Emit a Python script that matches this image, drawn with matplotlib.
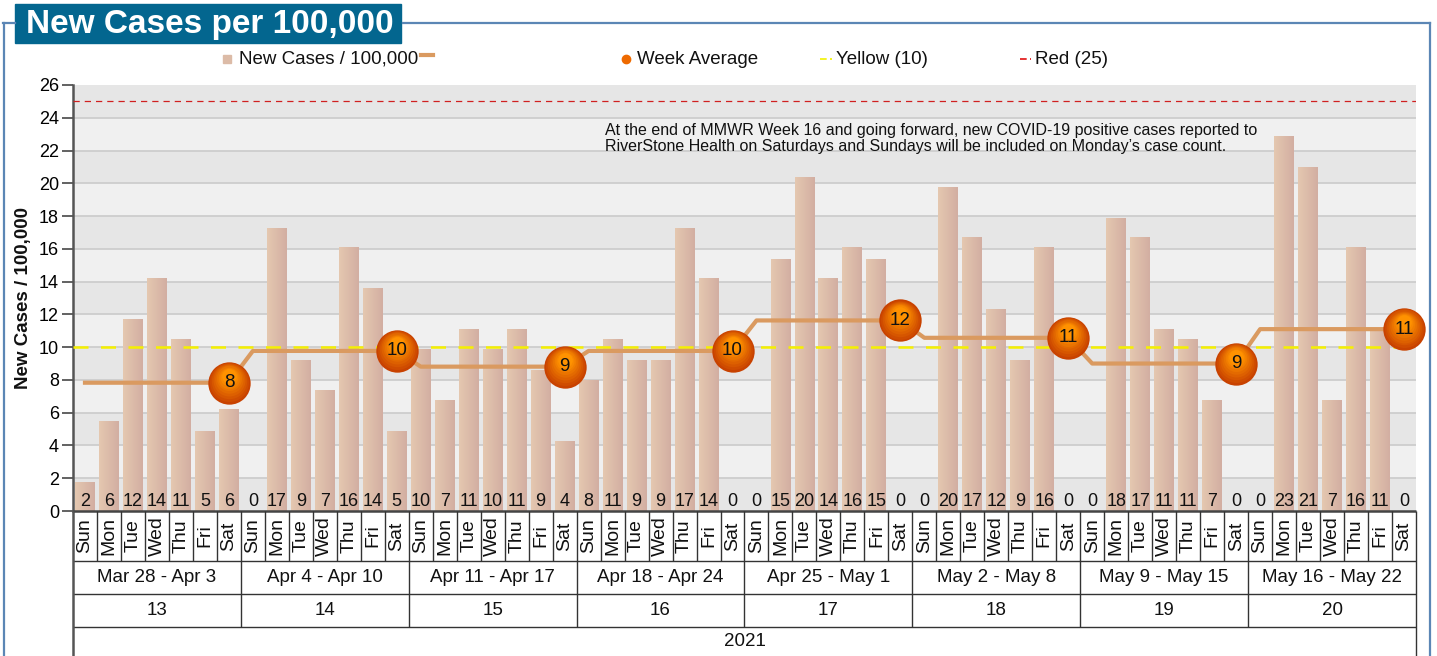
import numpy as np
import matplotlib
matplotlib.use('Agg')
import matplotlib.pyplot as plt
from matplotlib.colors import LinearSegmentedColormap, to_rgb
from matplotlib.lines import Line2D
from matplotlib.patches import Rectangle

plt.rcParams['font.family'] = ['Liberation Sans', 'DejaVu Sans']

# ---------------- data ----------------
days = ['Sun', 'Mon', 'Tue', 'Wed', 'Thu', 'Fri', 'Sat']
week_ranges = ['Mar 28 - Apr 3', 'Apr 4 - Apr 10', 'Apr 11 - Apr 17', 'Apr 18 - Apr 24',
               'Apr 25 - May 1', 'May 2 - May 8', 'May 9 - May 15', 'May 16 - May 22']
week_numbers = ['13', '14', '15', '16', '17', '18', '19', '20']
year_label = '2021'

cases_w13 = [1.8, 5.5, 11.7, 14.2, 10.5, 4.9, 6.2]
cases_w14 = [0.0, 17.3, 9.2, 7.4, 16.1, 13.6, 4.9]
cases_w15 = [9.9, 6.8, 11.1, 9.9, 11.1, 8.6, 4.3]
cases_w16 = [8.0, 10.5, 9.2, 9.2, 17.3, 14.2, 0.0]
cases_w17 = [0.0, 15.4, 20.4, 14.2, 16.1, 15.4, 0.0]
cases_w18 = [0.0, 19.8, 16.7, 12.3, 9.2, 16.1, 0.0]
cases_w19 = [0.0, 17.9, 16.7, 11.1, 10.5, 6.8, 0.0]
cases_w20 = [0.0, 22.9, 21.0, 6.8, 16.1, 11.0, 0.0]

week_average = [7.83, 9.77, 8.81, 9.77, 11.63, 10.57, 9.0, 11.1]
yellow_level = 10
red_level = 25

y_ticks = list(range(0, 27, 2))
note = ("At the end of MMWR Week 16 and going forward, new COVID-19 positive cases reported to\n"
        "RiverStone Health on Saturdays and Sundays will be included on Monday\u2019s case count.")

# ---------------- layout helpers ----------------
W, H = 1437, 656
fig = plt.figure(figsize=(W / 100, H / 100), dpi=100)
fig.patch.set_facecolor('white')


def fx(p):
    return p / W


def fy(p):
    return 1 - p / H


PL, PR, PT, PB = 73, 1416, 85, 511
ax = fig.add_axes([fx(PL), fy(PB), (PR - PL) / W, (PB - PT) / H])

cases = cases_w13 + cases_w14 + cases_w15 + cases_w16 + cases_w17 + cases_w18 + cases_w19 + cases_w20
n = len(cases)
x = np.arange(n)

# background bands + grid
for lo in range(0, 26, 2):
    col = '#E6E6E6' if (lo // 2) % 2 == 0 else '#F0F0F0'
    ax.axhspan(lo, lo + 2, color=col, zorder=0, lw=0)
for yv in y_ticks[1:-1]:
    ax.axhline(yv, color='#CDCDCD', lw=1.3, zorder=1)

# bars with horizontal gradient
bar_cmap = LinearSegmentedColormap.from_list('bar', ['#E5C8B0', '#D2AEA2'])
bars = ax.bar(x, cases, width=0.83, color='#DCBBA7', zorder=2, lw=0)
grad = np.linspace(0, 1, 64).reshape(1, -1)
for rect in bars:
    h = rect.get_height()
    if h <= 0:
        continue
    x0 = rect.get_x()
    w = rect.get_width()
    im = ax.imshow(grad, extent=[x0, x0 + w, 0, h], cmap=bar_cmap, aspect='auto',
                   zorder=2.1, interpolation='bilinear')
    im.set_clip_path(rect)

# threshold lines
ax.axhline(red_level, color='#D02020', lw=0.9, ls=(0, (5, 4)), zorder=3)
ax.axhline(yellow_level, color='#F5F000', lw=1.8, ls=(0, (6, 5)), zorder=3.2)

# week average line
daily_avg = np.repeat(week_average, 7)
ax.plot(x, daily_avg, color='#DA9A60', lw=3, zorder=3.5, solid_joinstyle='round')

# markers at end of each week (shaded sphere look)
mx = np.arange(6, n, 7)
my = np.array(week_average)
c_dark = np.array(to_rgb('#C84200'))
c_light = np.array(to_rgb('#FF9200'))
layers = 9
for j in range(layers):
    t = j / (layers - 1)
    size = 30.5 - 20 * t
    off = 0.42 * t
    col = c_dark * (1 - t) + c_light * t
    ax.scatter(mx, my + off, s=size ** 2, color=col, zorder=6 + 0.01 * j, lw=0, clip_on=False)
for xi, yi in zip(mx, my):
    ax.text(xi, yi, str(int(np.floor(yi + 0.5))), ha='center', va='center',
            fontsize=13.5, color='#111111', zorder=7)

# bar value labels
for xi, v in zip(x, cases):
    ax.text(xi, 0.28, str(int(np.floor(v + 0.5))), ha='center', va='baseline',
            fontsize=13, color='#111111', zorder=5)

ax.set_xlim(-0.5, n - 0.5)
ax.set_ylim(0, 26)
ax.set_yticks(y_ticks)
ax.set_xticks([])
ax.tick_params(axis='y', length=8, width=1.3, color='#555555', labelsize=13, pad=2)
for s in ['top', 'right', 'bottom']:
    ax.spines[s].set_visible(False)
ax.spines['left'].set_color('#555555')
ax.spines['left'].set_linewidth(1.8)
fig.text(fx(24), fy(298), 'New Cases / 100,000', fontsize=13.5, fontweight='bold',
         rotation=90, ha='center', va='center', color='#111111')

# note
fig.text(fx(605), fy(123), note, fontsize=11.5, va='top', ha='left', color='#111111',
         linespacing=1.05)

# ---------------- category table below ----------------
tab = fig.add_axes([fx(PL), 0, (PR - PL) / W, (H - PB) / H])
tab.set_xlim(-0.5, n - 0.5)
tab.set_ylim(H - PB, 0)
tab.axis('off')
lc = '#333333'
tab.hlines([0], -0.5, n - 0.5, color='#444444', lw=1.8, clip_on=False)
tab.hlines([50, 83, 116], -0.5, n - 0.5, color=lc, lw=1.0, clip_on=False)
for i in range(1, n):
    if i % 7 == 0:
        tab.vlines(i - 0.5, 0, 116, color=lc, lw=1.0)
    else:
        tab.vlines(i - 0.5, 0, 50, color=lc, lw=1.0)
tab.vlines(-0.5, 0, H - PB, color='#555555', lw=1.8, clip_on=False)
tab.vlines(n - 0.5, 0, H - PB, color=lc, lw=1.0, clip_on=False)
for i in range(n):
    tab.text(i, 25, days[i % 7], rotation=90, ha='center', va='center', fontsize=14,
             color='#111111')
for k in range(len(week_ranges)):
    tab.text(7 * k + 3, 66.5, week_ranges[k], ha='center', va='center', fontsize=13.5,
             color='#111111')
    tab.text(7 * k + 3, 99.5, week_numbers[k], ha='center', va='center', fontsize=13.5,
             color='#111111')
tab.text((n - 1) / 2, 130, year_label, ha='center', va='center', fontsize=13.5, color='#111111')

# ---------------- title + frame ----------------
frame_c = '#5B86B5'
fig.add_artist(Line2D([fx(3), fx(15)], [fy(23), fy(23)], color=frame_c, lw=1.6))
fig.add_artist(Line2D([fx(403), fx(1430)], [fy(23), fy(23)], color=frame_c, lw=1.6))
fig.add_artist(Line2D([fx(4), fx(4)], [fy(23), fy(H)], color=frame_c, lw=1.6))
fig.add_artist(Line2D([fx(1430), fx(1430)], [fy(23), fy(H)], color=frame_c, lw=1.6))
fig.add_artist(Rectangle((fx(15), fy(43)), (401 - 15) / W, 39 / H, color='#03668F',
                         transform=fig.transFigure))
fig.text(fx(26), fy(24), 'New Cases per 100,000', color='white', fontsize=24,
         fontweight='bold', ha='left', va='center')

# ---------------- legend ----------------
ly = 59
fig.add_artist(Rectangle((fx(223), fy(63)), 8 / W, 8 / H, color='#DCBBA7',
                         transform=fig.transFigure))
fig.text(fx(239), fy(ly), 'New Cases / 100,000', fontsize=13.5, va='center', ha='left',
         color='#111111')
fig.add_artist(Line2D([fx(421), fx(433)], [fy(55), fy(55)], color='#DA9A60', lw=3))
fig.add_artist(Line2D([fx(626)], [fy(ly)], marker='o', markersize=6, color='#EE6A00', lw=0))
fig.text(fx(637), fy(ly), 'Week Average', fontsize=13.5, va='center', ha='left',
         color='#111111')
fig.add_artist(Line2D([fx(820), fx(832)], [fy(ly), fy(ly)], color='#F2F200', lw=1.2,
                      ls=(0, (4, 2))))
fig.text(fx(836), fy(ly), 'Yellow (10)', fontsize=13.5, va='center', ha='left',
         color='#111111')
fig.add_artist(Line2D([fx(1020), fx(1031)], [fy(ly), fy(ly)], color='#E01010', lw=1.2,
                      ls=(0, (4, 2))))
fig.text(fx(1035), fy(ly), 'Red (25)', fontsize=13.5, va='center', ha='left',
         color='#111111')

fig.savefig('out.png', dpi=100)
